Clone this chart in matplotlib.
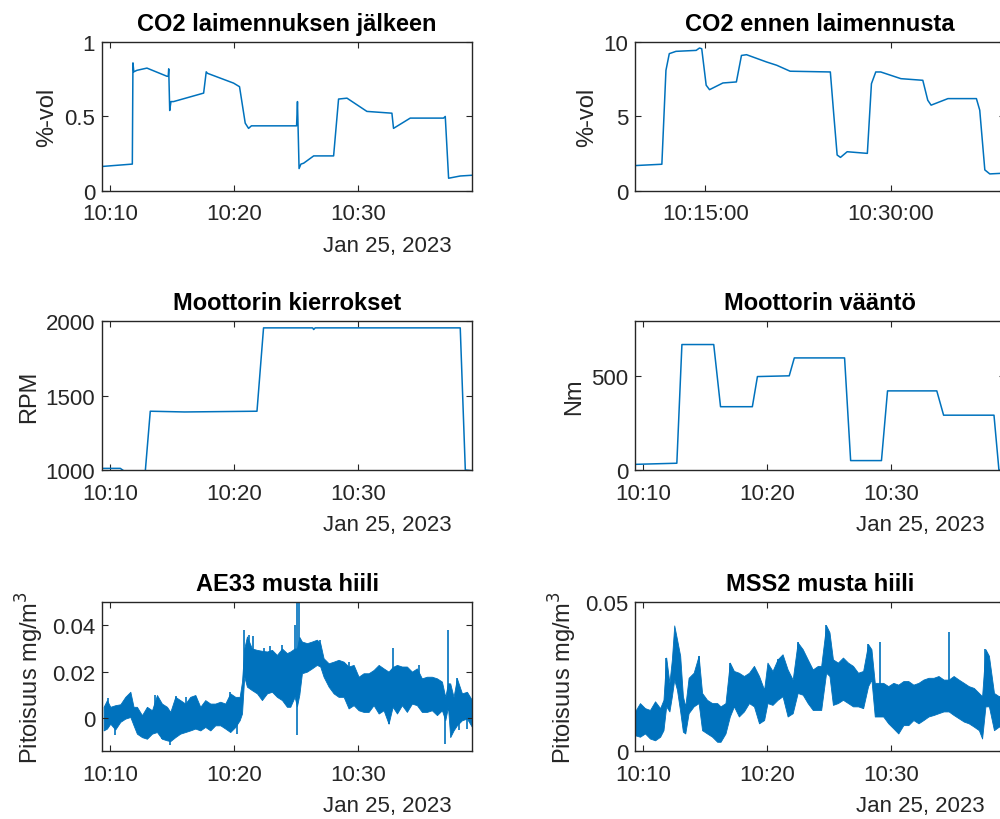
import numpy as np
import matplotlib
matplotlib.use('Agg')
import matplotlib.pyplot as plt
import matplotlib.dates as mdates

plt.rcParams['font.family'] = ['Liberation Sans', 'DejaVu Sans']

# ============================================================
# DATA  (time = minutes after 10:00, 25 Jan 2023)
# ============================================================
co2_dil_t = [9.33, 11.78, 11.83, 11.90, 12.15, 12.96, 14.58, 14.68, 14.72, 14.80, 14.90,
             15.11, 17.54, 17.75, 17.85, 19.96, 20.44, 20.90, 21.17, 21.40, 25.05,
             25.12, 25.25, 25.40, 25.62, 26.43, 28.04, 28.44, 29.12, 30.73, 32.75,
             32.88, 34.23, 36.92, 37.06, 37.33, 38.27, 39.22]
co2_dil = [0.164, 0.180, 0.86, 0.80, 0.81, 0.825, 0.77, 0.77, 0.82, 0.54, 0.60,
           0.60, 0.657, 0.80, 0.79, 0.724, 0.70, 0.455, 0.42, 0.437, 0.437,
           0.60, 0.15, 0.18, 0.186, 0.235, 0.235, 0.617, 0.623, 0.534, 0.522,
           0.42, 0.489, 0.489, 0.50, 0.085, 0.10, 0.105]

co2_raw_t = [9.33, 11.50, 11.83, 12.10, 12.64, 14.27, 14.54, 14.72, 15.08, 15.35, 16.43,
             17.52, 17.93, 18.34, 19.96, 20.78, 21.86, 25.11, 25.38, 25.66, 25.93,
             26.47, 28.10, 28.43, 28.78, 29.18, 30.81, 32.58, 32.98, 33.25, 34.61,
             36.91, 37.18, 37.59, 37.99, 38.94, 39.22]
co2_raw = [1.70, 1.79, 8.1, 9.22, 9.375, 9.44, 9.6, 9.55, 7.1, 6.8, 7.25,
           7.32, 9.1, 9.15, 8.66, 8.44, 8.04, 7.99, 5.2, 2.41, 2.25,
           2.63, 2.52, 7.2, 7.99, 7.99, 7.54, 7.43, 6.09, 5.76, 6.2,
           6.2, 5.42, 1.41, 1.14, 1.18, 1.2]

rpm_t = [9.33, 10.81, 11.08, 12.83, 13.23, 16.0, 21.85, 22.38, 26.35, 26.43, 26.55,
         38.27, 38.68, 39.22]
rpm = [1011, 1011, 995, 995, 1395, 1390, 1395, 1955, 1955, 1944, 1955,
       1955, 1000, 995]

nm_t = [9.33, 12.71, 13.12, 15.69, 16.24, 18.81, 19.22, 21.79, 22.20, 26.26, 26.75,
        29.24, 29.73, 33.71, 34.26, 38.33, 38.73, 39.22]
nm = [30, 36, 666, 666, 336, 336, 496, 500, 595, 595, 50,
      50, 420, 420, 291, 291, 0, 0]

# AE33 black carbon: band of the noisy signal (low / high edge) + single spikes
ae_t = [9.46, 9.73, 10.00, 10.40, 10.81, 11.21, 11.62, 11.88, 12.15, 12.56, 12.96,
        13.37, 13.77, 14.17, 14.58, 14.85, 15.25, 15.65, 16.06, 16.46, 16.87,
        17.27, 17.67, 18.08, 18.48, 18.89, 19.29, 19.69, 20.10, 20.45, 20.64,
        20.82, 21.04, 21.44, 21.85, 22.25, 22.66, 23.06, 23.46, 23.87, 24.27,
        24.54, 24.89, 25.08, 25.27, 25.48, 25.89, 26.29, 26.69, 26.96, 27.23,
        27.64, 28.04, 28.44, 28.85, 29.25, 29.66, 30.06, 30.46, 30.87, 31.27,
        31.68, 32.08, 32.48, 32.81, 33.16, 33.56, 33.96, 34.37, 34.77, 35.17,
        35.58, 35.98, 36.39, 36.79, 37.06, 37.28, 37.46, 37.73, 38.00, 38.41,
        38.81, 39.22]
ae_lo = [-0.0054, -0.0046, -0.0025, -0.0050, -0.0017, -0.0003, 0.0004, -0.0032, -0.0068, -0.0083, -0.0090,
         -0.0068, -0.0061, -0.0090, -0.0097, -0.0100, -0.0083, -0.0068, -0.0061, -0.0054, -0.0046,
         -0.0054, -0.0039, -0.0054, -0.0032, -0.0032, -0.0046, -0.0061, -0.0039, -0.0010, 0.0019,
         0.0178, 0.0135, 0.0120, 0.0106, 0.0077, 0.0106, 0.0113, 0.0091, 0.0077, 0.0048,
         0.0048, 0.0091, 0.0050, 0.0100, 0.0193, 0.0200, 0.0214, 0.0229, 0.0222, 0.0178,
         0.0135, 0.0106, 0.0091, 0.0091, 0.0041, 0.0055, 0.0033, 0.0026, 0.0026, 0.0055,
         0.0019, 0.0033, -0.0025, 0.0048, 0.0019, 0.0055, 0.0026, 0.0062, 0.0055, 0.0026,
         0.0026, 0.0033, 0.0012, 0.0033, -0.0010, 0.0048, -0.0083, -0.0054, -0.0032, -0.0010,
         -0.0003, -0.0039]
ae_hi = [0.0048, 0.0077, 0.0048, 0.0055, 0.0059, 0.0091, 0.0113, 0.0048, 0.0048, 0.0012, 0.0048,
         0.0033, 0.0099, 0.0062, 0.0048, 0.0026, 0.0091, 0.0077, 0.0062, 0.0091, 0.0099,
         0.0048, 0.0077, 0.0062, 0.0062, 0.0070, 0.0062, 0.0106, 0.0091, 0.0091, 0.0157,
         0.0300, 0.0352, 0.0300, 0.0294, 0.0290, 0.0287, 0.0294, 0.0272, 0.0300, 0.0280,
         0.0287, 0.0300, 0.0300, 0.0350, 0.0330, 0.0323, 0.0330, 0.0338, 0.0323, 0.0258,
         0.0236, 0.0243, 0.0251, 0.0243, 0.0222, 0.0229, 0.0178, 0.0193, 0.0193, 0.0207,
         0.0229, 0.0214, 0.0200, 0.0220, 0.0229, 0.0222, 0.0222, 0.0200, 0.0214, 0.0171,
         0.0178, 0.0178, 0.0171, 0.0157, 0.0091, 0.0150, 0.0149, 0.0091, 0.0171, 0.0106,
         0.0113, 0.0077]
ae_spike_t = [9.78, 10.40, 13.63, 14.17, 14.85, 15.33, 16.14, 16.95, 19.69, 20.23,
              20.82, 21.17, 21.52, 22.39, 22.92, 23.87, 24.89, 25.08, 25.27, 26.96,
              29.25, 32.48, 32.81, 34.90, 37.06, 37.28, 38.00, 38.14, 38.81]
ae_spike_lo = [0.0000, -0.0075, 0.0000, -0.0090, -0.0119, 0.0000, 0.0000, 0.0000, 0.0000, -0.0068,
               0.0180, 0.0150, 0.0150, 0.0120, 0.0120, 0.0100, 0.0090, -0.0075, 0.0100, 0.0250,
               0.0120, -0.0025, 0.0050, 0.0100, -0.0112, 0.0050, 0.0050, -0.0054, -0.0046]
ae_spike_hi = [0.0084, 0.0040, 0.0099, 0.0020, 0.0020, 0.0094, 0.0091, 0.0091, 0.0110, 0.0030,
               0.0381, 0.0360, 0.0355, 0.0300, 0.0310, 0.0316, 0.0403, 0.0500, 0.0500, 0.0338,
               0.0243, 0.0100, 0.0301, 0.0229, 0.0090, 0.0381, 0.0171, 0.0050, 0.0050]

# MSS2 black carbon
ms_t = [9.33, 9.73, 10.14, 10.54, 10.95, 11.36, 11.63, 11.85, 12.11, 12.31, 12.50,
        12.72, 12.98, 13.20, 13.39, 13.66, 14.07, 14.47, 14.75, 15.15, 15.56,
        15.97, 16.24, 16.64, 16.99, 17.32, 17.72, 18.13, 18.54, 18.94, 19.35,
        19.76, 20.03, 20.44, 20.85, 21.25, 21.66, 22.07, 22.47, 22.88, 23.28,
        23.69, 24.10, 24.37, 24.77, 25.04, 25.32, 25.72, 26.13, 26.54, 26.94,
        27.35, 27.76, 28.16, 28.43, 28.70, 29.11, 29.38, 29.79, 30.20, 30.60,
        31.01, 31.41, 31.82, 32.23, 32.63, 33.04, 33.45, 33.85, 34.26, 34.67,
        35.07, 35.48, 35.89, 36.29, 36.70, 37.11, 37.37, 37.64, 37.92, 38.33,
        38.73, 39.22]
ms_lo = [0.0053, 0.0048, 0.0059, 0.0042, 0.0036, 0.0048, 0.0070, 0.0150, 0.0133, 0.0184, 0.0240,
         0.0206, 0.0133, 0.0065, 0.0059, 0.0127, 0.0150, 0.0161, 0.0070, 0.0059, 0.0048,
         0.0031, 0.0031, 0.0059, 0.0116, 0.0150, 0.0116, 0.0133, 0.0161, 0.0150, 0.0093,
         0.0104, 0.0161, 0.0155, 0.0172, 0.0184, 0.0116, 0.0127, 0.0195, 0.0189, 0.0161,
         0.0138, 0.0138, 0.0138, 0.0263, 0.0252, 0.0155, 0.0161, 0.0172, 0.0161, 0.0150,
         0.0150, 0.0144, 0.0218, 0.0240, 0.0116, 0.0116, 0.0116, 0.0093, 0.0076, 0.0059,
         0.0087, 0.0087, 0.0104, 0.0093, 0.0104, 0.0116, 0.0121, 0.0127, 0.0133, 0.0133,
         0.0121, 0.0110, 0.0099, 0.0093, 0.0082, 0.0070, 0.0042, 0.0150, 0.0150, 0.0070,
         0.0082, 0.0082]
ms_hi = [0.0133, 0.0161, 0.0144, 0.0138, 0.0167, 0.0144, 0.0172, 0.0314, 0.0229, 0.0308, 0.0422,
         0.0376, 0.0320, 0.0184, 0.0150, 0.0246, 0.0263, 0.0320, 0.0195, 0.0172, 0.0161,
         0.0161, 0.0150, 0.0161, 0.0297, 0.0269, 0.0263, 0.0252, 0.0263, 0.0286, 0.0252,
         0.0206, 0.0297, 0.0269, 0.0308, 0.0325, 0.0274, 0.0240, 0.0365, 0.0342, 0.0308,
         0.0274, 0.0286, 0.0286, 0.0422, 0.0399, 0.0308, 0.0297, 0.0314, 0.0297, 0.0286,
         0.0263, 0.0269, 0.0359, 0.0342, 0.0229, 0.0229, 0.0229, 0.0218, 0.0229, 0.0223,
         0.0235, 0.0235, 0.0223, 0.0229, 0.0240, 0.0246, 0.0246, 0.0252, 0.0240, 0.0240,
         0.0252, 0.0240, 0.0229, 0.0218, 0.0212, 0.0195, 0.0184, 0.0342, 0.0320, 0.0195,
         0.0184, 0.0195]
ms_spike_t = [11.85, 14.47, 16.99, 20.85, 22.47, 24.77, 28.16, 29.11, 34.67, 37.64]
ms_spike_lo = [0.0150, 0.0161, 0.0150, 0.0200, 0.0195, 0.0263, 0.0218, 0.0116, 0.0133, 0.0150]
ms_spike_hi = [0.0314, 0.0320, 0.0297, 0.0308, 0.0365, 0.0422, 0.0359, 0.0365, 0.0399, 0.0342]

t0, t1 = 9.33, 39.22
base = np.datetime64('2023-01-25T10:00:00')


def to_dt(mins):
    return base + (np.asarray(mins) * 60000).astype('timedelta64[ms]')


# ============================================================
# FIGURE
# ============================================================
blue = '#0072BD'
grey = '#262626'

fig = plt.figure(figsize=(10, 8.2), dpi=100)
lefts = [0.102, 0.635]
bottoms = [0.766, 0.4256, 0.0829]
w, h = 0.370, 0.1815

axes = [[fig.add_axes([l, b, w, h]) for l in lefts] for b in bottoms]


def style(ax, title, ylabel, minutes=(10, 20, 30), fmt='%H:%M', date=True):
    ax.set_xlim(to_dt(t0), to_dt(t1))
    ax.xaxis.set_major_locator(mdates.MinuteLocator(byminute=list(minutes)))
    ax.xaxis.set_major_formatter(mdates.DateFormatter(fmt))
    ax.set_title(title, fontsize=17, fontweight='bold', pad=9)
    ax.set_ylabel(ylabel, fontsize=17, color=grey, labelpad=4)
    ax.tick_params(direction='in', top=True, right=True, length=4, width=0.8,
                   labelsize=16, colors=grey)
    ax.tick_params(axis='x', pad=9)
    ax.tick_params(axis='y', pad=5)
    for s in ax.spines.values():
        s.set_linewidth(1.0)
        s.set_color(grey)
    if date:
        ax.annotate('Jan 25, 2023', xy=(1, 0), xycoords='axes fraction',
                    xytext=(-20, -44), textcoords='offset pixels',
                    ha='right', va='top', fontsize=16, color=grey)


# CO2 after dilution
ax = axes[0][0]
ax.plot(to_dt(co2_dil_t), co2_dil, color=blue, lw=1.1)
ax.set_ylim(0, 1)
ax.set_yticks([0, 0.5, 1])
ax.set_yticklabels(['0', '0.5', '1'])
style(ax, 'CO2 laimennuksen jälkeen', '%-vol')

# CO2 before dilution
ax = axes[0][1]
ax.plot(to_dt(co2_raw_t), co2_raw, color=blue, lw=1.1)
ax.set_ylim(0, 10)
ax.set_yticks([0, 5, 10])
style(ax, 'CO2 ennen laimennusta', '%-vol', minutes=(15, 30), fmt='%H:%M:%S', date=False)

# engine speed
ax = axes[1][0]
ax.plot(to_dt(rpm_t), rpm, color=blue, lw=1.1)
ax.set_ylim(1000, 2000)
ax.set_yticks([1000, 1500, 2000])
style(ax, 'Moottorin kierrokset', 'RPM')

# engine torque
ax = axes[1][1]
ax.plot(to_dt(nm_t), nm, color=blue, lw=1.1)
ax.set_ylim(0, 790)
ax.set_yticks([0, 500])
style(ax, 'Moottorin vääntö', 'Nm')

# AE33
ax = axes[2][0]
ax.fill_between(to_dt(ae_t), ae_lo, ae_hi, color=blue, lw=0.6, edgecolor=blue)
ax.vlines(to_dt(ae_spike_t), ae_spike_lo, ae_spike_hi, color=blue, lw=1.2)
ax.set_ylim(-0.0143, 0.05)
ax.set_yticks([0, 0.02, 0.04])
ax.set_yticklabels(['0', '0.02', '0.04'])
style(ax, 'AE33 musta hiili', 'Pitoisuus mg/m$^3$')

# MSS2
ax = axes[2][1]
ax.fill_between(to_dt(ms_t), ms_lo, ms_hi, color=blue, lw=0.6, edgecolor=blue)
ax.vlines(to_dt(ms_spike_t), ms_spike_lo, ms_spike_hi, color=blue, lw=1.2)
ax.set_ylim(0, 0.05)
ax.set_yticks([0, 0.05])
ax.set_yticklabels(['0', '0.05'])
style(ax, 'MSS2 musta hiili', 'Pitoisuus mg/m$^3$')

fig.savefig('out.png', dpi=100)
